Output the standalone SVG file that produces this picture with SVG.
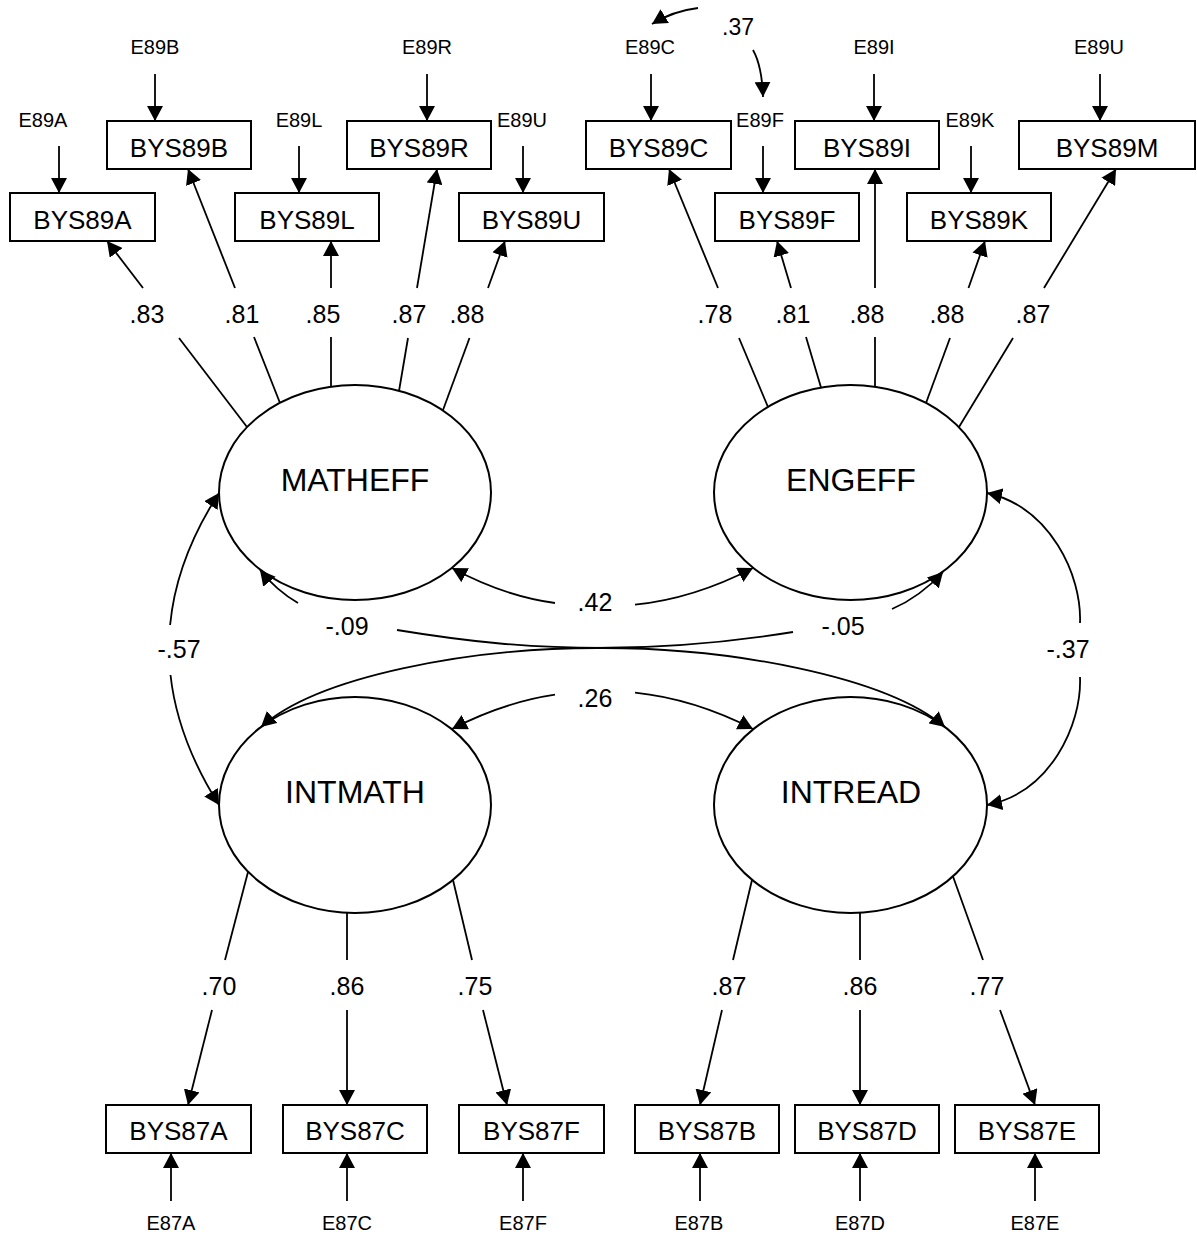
<svg xmlns="http://www.w3.org/2000/svg" width="1197" height="1236" viewBox="0 0 1197 1236">
<defs>
<style>
.box{fill:#fff;stroke:#000;stroke-width:2}
.lat{fill:#fff;stroke:#000;stroke-width:2}
text{font-family:"Liberation Sans",Arial,sans-serif;fill:#000;text-anchor:middle}
.bl{font-size:26px}
.el{font-size:20px}
.ll{font-size:32px}
.cf{font-size:25px}
.ln{fill:none;stroke:#000;stroke-width:1.8}
.ar{marker-end:url(#ah)}
</style>
<marker id="ah" viewBox="0 0 16 16" markerUnits="userSpaceOnUse" markerWidth="16" markerHeight="16" refX="15" refY="8" orient="auto"><path d="M0,0 L15,8 L0,16 z" fill="#000"/></marker>
</defs>
<rect width="1197" height="1236" fill="#fff"/>

<!-- observed boxes -->
<g id="BYS89A"><rect class="box" x="10" y="193" width="145" height="48"/><text class="bl" x="82.5" y="229">BYS89A</text></g>
<g id="BYS89B"><rect class="box" x="107" y="121" width="144" height="48"/><text class="bl" x="179" y="157">BYS89B</text></g>
<g id="BYS89L"><rect class="box" x="235" y="193" width="144" height="48"/><text class="bl" x="307" y="229">BYS89L</text></g>
<g id="BYS89R"><rect class="box" x="347" y="121" width="144" height="48"/><text class="bl" x="419" y="157">BYS89R</text></g>
<g id="BYS89U"><rect class="box" x="459" y="193" width="145" height="48"/><text class="bl" x="531.5" y="229">BYS89U</text></g>
<g id="BYS89C"><rect class="box" x="586" y="121" width="145" height="48"/><text class="bl" x="658.5" y="157">BYS89C</text></g>
<g id="BYS89F"><rect class="box" x="715" y="193" width="144" height="48"/><text class="bl" x="787" y="229">BYS89F</text></g>
<g id="BYS89I"><rect class="box" x="795" y="121" width="144" height="48"/><text class="bl" x="867" y="157">BYS89I</text></g>
<g id="BYS89K"><rect class="box" x="907" y="193" width="144" height="48"/><text class="bl" x="979" y="229">BYS89K</text></g>
<g id="BYS89M"><rect class="box" x="1019" y="121" width="176" height="48"/><text class="bl" x="1107" y="157">BYS89M</text></g>

<g id="BYS87A"><rect class="box" x="106" y="1105" width="145" height="48"/><text class="bl" x="178.5" y="1140">BYS87A</text></g>
<g id="BYS87C"><rect class="box" x="283" y="1105" width="144" height="48"/><text class="bl" x="355" y="1140">BYS87C</text></g>
<g id="BYS87F"><rect class="box" x="459" y="1105" width="145" height="48"/><text class="bl" x="531.5" y="1140">BYS87F</text></g>
<g id="BYS87B"><rect class="box" x="635" y="1105" width="144" height="48"/><text class="bl" x="707" y="1140">BYS87B</text></g>
<g id="BYS87D"><rect class="box" x="795" y="1105" width="144" height="48"/><text class="bl" x="867" y="1140">BYS87D</text></g>
<g id="BYS87E"><rect class="box" x="955" y="1105" width="144" height="48"/><text class="bl" x="1027" y="1140">BYS87E</text></g>

<!-- latent variables -->
<g id="MATHEFF"><ellipse class="lat" cx="355" cy="492.5" rx="136" ry="107.5"/><text class="ll" x="355" y="491">MATHEFF</text></g>
<g id="ENGEFF"><ellipse class="lat" cx="850.5" cy="492.5" rx="136.5" ry="107.5"/><text class="ll" x="851" y="491">ENGEFF</text></g>
<g id="INTMATH"><ellipse class="lat" cx="355" cy="805" rx="136" ry="108"/><text class="ll" x="355" y="803">INTMATH</text></g>
<g id="INTREAD"><ellipse class="lat" cx="850.5" cy="805" rx="136.5" ry="108"/><text class="ll" x="851" y="803">INTREAD</text></g>

<!-- error terms -->
<g id="E89A"><text class="el" x="43" y="127">E89A</text></g>
<g id="E89B"><text class="el" x="155" y="54">E89B</text></g>
<g id="E89L"><text class="el" x="299" y="127">E89L</text></g>
<g id="E89R"><text class="el" x="427" y="54">E89R</text></g>
<g id="E89U1"><text class="el" x="522" y="127">E89U</text></g>
<g id="E89C"><text class="el" x="650" y="54">E89C</text></g>
<g id="E89F"><text class="el" x="760" y="127">E89F</text></g>
<g id="E89I"><text class="el" x="874" y="54">E89I</text></g>
<g id="E89K"><text class="el" x="970" y="127">E89K</text></g>
<g id="E89U2"><text class="el" x="1099" y="54">E89U</text></g>
<g id="E87A"><text class="el" x="171" y="1230">E87A</text></g>
<g id="E87C"><text class="el" x="347" y="1230">E87C</text></g>
<g id="E87F"><text class="el" x="523" y="1230">E87F</text></g>
<g id="E87B"><text class="el" x="699" y="1230">E87B</text></g>
<g id="E87D"><text class="el" x="860" y="1230">E87D</text></g>
<g id="E87E"><text class="el" x="1035" y="1230">E87E</text></g>

<g id="connectors">
<!-- error arrows top -->
<line class="ln ar" x1="59" y1="146" x2="59" y2="193"/>
<line class="ln ar" x1="155" y1="74" x2="155" y2="121"/>
<line class="ln ar" x1="299" y1="146" x2="299" y2="193"/>
<line class="ln ar" x1="427" y1="74" x2="427" y2="121"/>
<line class="ln ar" x1="523" y1="146" x2="523" y2="193"/>
<line class="ln ar" x1="651" y1="74" x2="651" y2="121"/>
<line class="ln ar" x1="763" y1="146" x2="763" y2="193"/>
<line class="ln ar" x1="874" y1="74" x2="874" y2="121"/>
<line class="ln ar" x1="971" y1="146" x2="971" y2="193"/>
<line class="ln ar" x1="1100" y1="74" x2="1100" y2="121"/>
<!-- error correlation .37 -->
<path class="ln ar" d="M698,8 Q673,11 652,24"/>
<path class="ln ar" d="M753,50 Q762,66 763,97"/>
<!-- error arrows bottom -->
<line class="ln ar" x1="171" y1="1201" x2="171" y2="1153"/>
<line class="ln ar" x1="347" y1="1201" x2="347" y2="1153"/>
<line class="ln ar" x1="523" y1="1201" x2="523" y2="1153"/>
<line class="ln ar" x1="700" y1="1201" x2="700" y2="1153"/>
<line class="ln ar" x1="860" y1="1201" x2="860" y2="1153"/>
<line class="ln ar" x1="1035" y1="1201" x2="1035" y2="1153"/>

<!-- MATHEFF loadings -->
<line class="ln" x1="247" y1="427" x2="179" y2="338"/>
<line class="ln ar" x1="143" y1="288" x2="107" y2="241"/>
<line class="ln" x1="280" y1="403" x2="254" y2="337"/>
<line class="ln ar" x1="235" y1="288" x2="188" y2="169"/>
<line class="ln" x1="331" y1="387" x2="331" y2="337"/>
<line class="ln ar" x1="331" y1="288" x2="331" y2="241"/>
<line class="ln" x1="399" y1="391" x2="408" y2="338"/>
<line class="ln ar" x1="417" y1="288" x2="437" y2="169"/>
<line class="ln" x1="443" y1="410" x2="469.5" y2="338"/>
<line class="ln ar" x1="488" y1="288" x2="505" y2="241"/>
<!-- ENGEFF loadings -->
<line class="ln" x1="768" y1="407" x2="739" y2="338"/>
<line class="ln ar" x1="718" y1="288" x2="669" y2="169"/>
<line class="ln" x1="821" y1="387.5" x2="806" y2="337"/>
<line class="ln ar" x1="791" y1="288" x2="777" y2="241"/>
<line class="ln" x1="875" y1="387" x2="875" y2="337"/>
<line class="ln ar" x1="875" y1="288" x2="875" y2="169"/>
<line class="ln" x1="926" y1="403" x2="950" y2="338"/>
<line class="ln ar" x1="968.5" y1="288" x2="985" y2="241"/>
<line class="ln" x1="959" y1="427" x2="1013" y2="338"/>
<line class="ln ar" x1="1044" y1="288" x2="1116" y2="169"/>
<!-- INTMATH loadings -->
<line class="ln" x1="248" y1="872" x2="225" y2="960"/>
<line class="ln ar" x1="212" y1="1010" x2="188" y2="1105"/>
<line class="ln" x1="347" y1="913" x2="347" y2="960"/>
<line class="ln ar" x1="347" y1="1010" x2="347" y2="1105"/>
<line class="ln" x1="453" y1="880" x2="472" y2="960"/>
<line class="ln ar" x1="483" y1="1010" x2="507" y2="1105"/>
<!-- INTREAD loadings -->
<line class="ln" x1="752" y1="880" x2="733" y2="960"/>
<line class="ln ar" x1="722" y1="1010" x2="700" y2="1105"/>
<line class="ln" x1="860" y1="913" x2="860" y2="960"/>
<line class="ln ar" x1="860" y1="1010" x2="860" y2="1105"/>
<line class="ln" x1="953" y1="876.5" x2="983" y2="960"/>
<line class="ln ar" x1="1000" y1="1010" x2="1035" y2="1105"/>

<!-- correlations -->
<path class="ln ar" d="M170.1,625 Q176.3,559 219,493"/>
<path class="ln ar" d="M170.5,675 Q177.5,739 219,805"/>
<path class="ln ar" d="M1080,623 C1082,575 1050,507 987,493"/>
<path class="ln ar" d="M1080,677 C1082,725 1050,793 987,805"/>
<path class="ln ar" d="M555,603 Q503.3,595.9 452,568"/>
<path class="ln ar" d="M635,604.7 Q693.8,598.7 753,568"/>
<path class="ln ar" d="M555,694.7 Q503.3,702.4 452,729"/>
<path class="ln ar" d="M635,692.7 Q693.8,698.8 753,729"/>
<path class="ln ar" d="M298,603 Q277,591 260,570"/>
<path class="ln ar" d="M397,630 C470,642 530,648 603,648 C730,648 885,676 945,727"/>
<path class="ln ar" d="M892,609 Q920,597 943,572"/>
<path class="ln ar" d="M793,632 C725,643 665,648 597,648 C470,648 318,676 261,727"/>
</g>

<g id="labels">
<text class="cf" x="738" y="35" style="font-size:23px">.37</text>
<text class="cf" x="147" y="323">.83</text>
<text class="cf" x="242" y="323">.81</text>
<text class="cf" x="323" y="323">.85</text>
<text class="cf" x="409" y="323">.87</text>
<text class="cf" x="467" y="323">.88</text>
<text class="cf" x="715" y="323">.78</text>
<text class="cf" x="793" y="323">.81</text>
<text class="cf" x="867" y="323">.88</text>
<text class="cf" x="947" y="323">.88</text>
<text class="cf" x="1033" y="323">.87</text>
<text class="cf" x="595" y="611">.42</text>
<text class="cf" x="347" y="635">-.09</text>
<text class="cf" x="843" y="635">-.05</text>
<text class="cf" x="179" y="658">-.57</text>
<text class="cf" x="1068" y="658">-.37</text>
<text class="cf" x="595" y="707">.26</text>
<text class="cf" x="219" y="995">.70</text>
<text class="cf" x="347" y="995">.86</text>
<text class="cf" x="475" y="995">.75</text>
<text class="cf" x="729" y="995">.87</text>
<text class="cf" x="860" y="995">.86</text>
<text class="cf" x="987" y="995">.77</text>
</g>
</svg>
